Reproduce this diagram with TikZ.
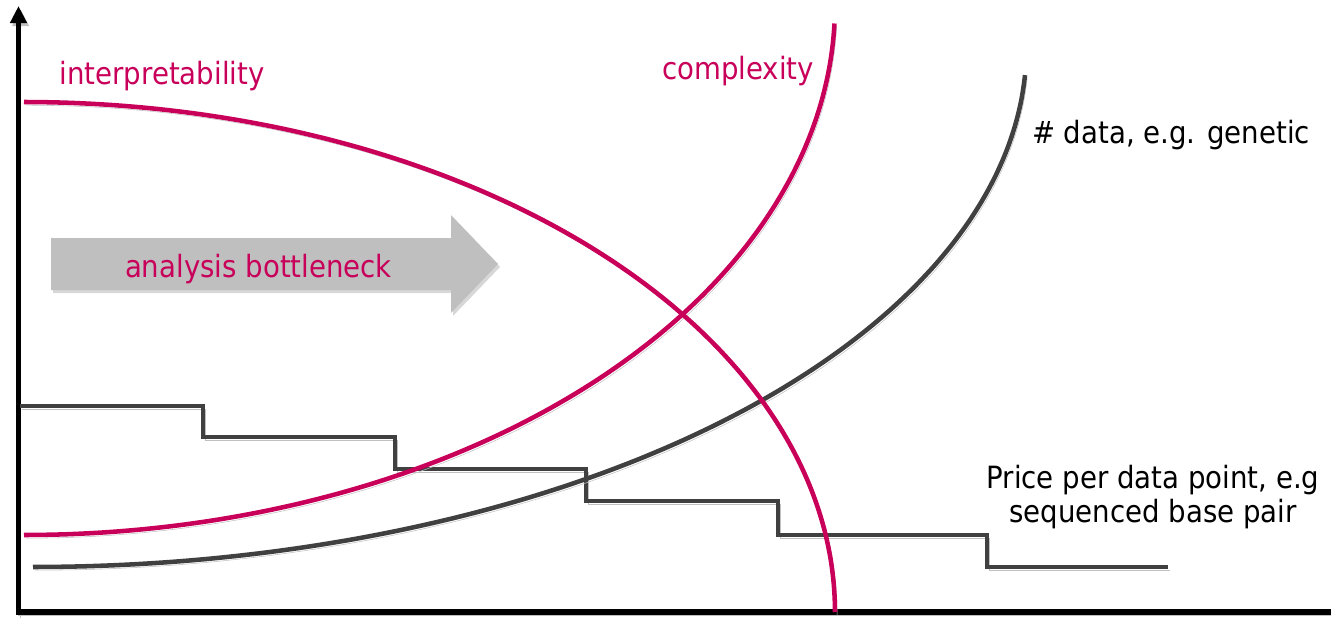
\documentclass[tikz,border=0pt]{standalone}
\usepackage{fontspec}
\setmainfont{DejaVu Sans}[FakeStretch=0.9]
\usetikzlibrary{arrows.meta}
\definecolor{crim}{RGB}{200,0,90}
\definecolor{dgray}{RGB}{64,64,64}
\definecolor{shad}{RGB}{192,192,192}
\definecolor{arrfill}{RGB}{191,191,191}
\definecolor{arrshad}{RGB}{215,215,215}
\begin{document}
\begin{tikzpicture}[x=0.75pt,y=-0.75pt,
  shadowed/.style={preaction={draw=shad, transform canvas={xshift=1.6pt,yshift=-2.4pt}}},
  crimline/.style={shadowed, draw=crim, line width=3.4pt},
  grayline/.style={shadowed, draw=dgray, line width=3.4pt},
  axisline/.style={shadowed, draw=black, line width=4pt},
  lbl/.style={font=\fontsize{23}{28}\selectfont, inner sep=0pt, anchor=base},
  bigarrow/.style={fill=arrfill, preaction={fill=arrshad, transform canvas={xshift=1.5pt,yshift=-2.25pt}}},
]
\useasboundingbox (0,0) rectangle (1331,621);
\clip (0,0) rectangle (1331,621);

% axes
\coordinate (O) at (18.5,612);
\coordinate (ytop) at (18.5,6);
\coordinate (xend) at (1331,612);
\draw[axisline, -{Triangle[width=12pt,length=12.75pt]}] ([yshift=-2pt]O) -- (ytop);
\draw[axisline] ([xshift=-2pt]O) -- (xend);

% analysis bottleneck arrow
\path[bigarrow] (51,238) -- (451,238) -- (451,215) -- (498,264) -- (451,313) -- (451,290) -- (51,290) -- cycle;

% price staircase
\draw[grayline] (20,406) -- (203,406) -- (203,437) -- (395,437) -- (395,469) -- (586,469)
  -- (586,501) -- (778,501) -- (778,535) -- (987,535) -- (987,567) -- (1168,567);

% # data curve
\draw[grayline] plot[domain=0:86.9, samples=120, smooth, variable=\t]
  ({33+993.5*sin(\t)}, {47+520*cos(\t)});

% complexity curve
\draw[crimline] plot[domain=0:88, samples=120, smooth, variable=\t]
  ({24+811*sin(\t)}, {5+530*cos(\t)});

% interpretability curve
\draw[crimline] plot[domain=0:90, samples=120, smooth, variable=\t]
  ({24+811*sin(\t)}, {612-510*cos(\t)});

% labels
\node[lbl, text=crim] (interp) at (162,84) {interpretability};
\node[lbl, text=crim] (complex) at (738,79) {complexity};
\node[lbl] (data) at (1171,143) {\# data, e.g. genetic};
\node[lbl, text=crim] (bottleneck) at (258.5,277) {analysis bottleneck};
\node[lbl] (price1) at (1153,488) {Price per data point, e.g};
\node[lbl] (price2) at (1153,522) {sequenced base pair};
\end{tikzpicture}
\end{document}
